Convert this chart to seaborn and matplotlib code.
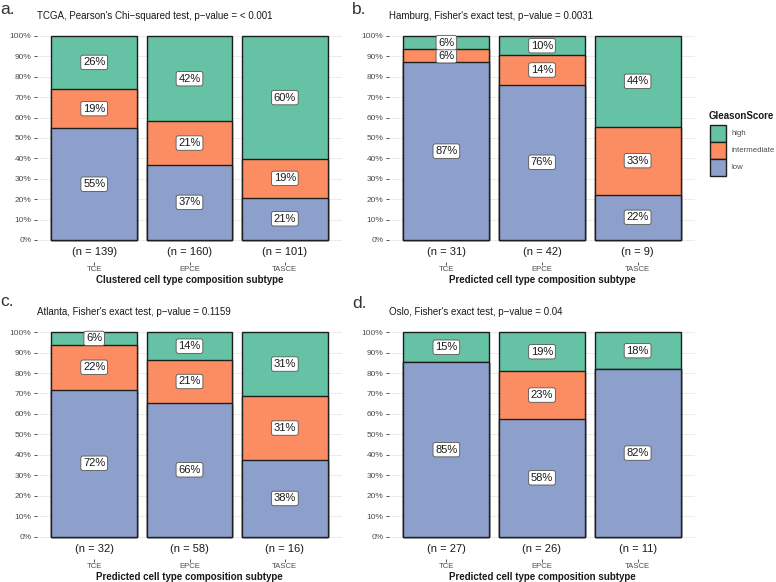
import numpy as np
import pandas as pd
import matplotlib
matplotlib.use("Agg")
import matplotlib.pyplot as plt
import seaborn as sns
from matplotlib.patches import Rectangle

sns.set_theme(style="white")
plt.rcParams["font.family"] = ["Liberation Sans", "DejaVu Sans"]

# ---------------- data (counts per subtype) ----------------
subtypes = ["TCE", "EPCE", "TASCE"]
grades = ["low", "intermediate", "high"]
palette = {"high": "#66C2A5", "intermediate": "#FC8D62", "low": "#8DA0CB"}

tcga_low = [76, 59, 21]
tcga_int = [27, 34, 19]
tcga_high = [36, 67, 61]

hamburg_low = [27, 32, 2]
hamburg_int = [2, 6, 3]
hamburg_high = [2, 4, 4]

atlanta_low = [23, 38, 6]
atlanta_int = [7, 12, 5]
atlanta_high = [2, 8, 5]

oslo_low = [23, 15, 9]
oslo_int = [0, 6, 0]
oslo_high = [4, 5, 2]

titles = [
    "TCGA, Pearson's Chi\u2212squared test, p\u2212value = < 0.001",
    "Hamburg, Fisher's exact test, p\u2212value = 0.0031",
    "Atlanta, Fisher's exact test, p\u2212value = 0.1159",
    "Oslo, Fisher's exact test, p\u2212value = 0.04",
]
xlabels = [
    "Clustered cell type composition subtype",
    "Predicted cell type composition subtype",
    "Predicted cell type composition subtype",
    "Predicted cell type composition subtype",
]
panel_letters = ["a.", "b.", "c.", "d."]
datasets = [
    (tcga_low, tcga_int, tcga_high),
    (hamburg_low, hamburg_int, hamburg_high),
    (atlanta_low, atlanta_int, atlanta_high),
    (oslo_low, oslo_int, oslo_high),
]

W, H = 776, 582
fig = plt.figure(figsize=(W / 100, H / 100), dpi=100)
fig.patch.set_facecolor("white")


def px_axes(left, top, right, bottom):
    return fig.add_axes([left / W, 1 - bottom / H, (right - left) / W, (bottom - top) / H])


# pixel boxes: (left, top, right, bottom)
boxes = [
    (37, 26, 342, 262),
    (389, 26, 695, 262),
    (37, 322, 342, 559),
    (389, 322, 695, 559),
]
letter_pos = [(0, 9), (352, 9), (0, 302), (352, 303)]

edge = "#1E1E1E"
for k, ((lo, it, hi), box) in enumerate(zip(datasets, boxes)):
    ax = px_axes(*box)
    lo = np.array(lo, float)
    it = np.array(it, float)
    hi = np.array(hi, float)
    n = lo + it + hi
    f_lo, f_it, f_hi = lo / n, it / n, hi / n
    df = pd.DataFrame({
        "subtype": subtypes,
        "cum_high": f_lo + f_it + f_hi,
        "cum_int": f_lo + f_it,
        "cum_low": f_lo,
    })
    for col, g in [("cum_high", "high"), ("cum_int", "intermediate"), ("cum_low", "low")]:
        sns.barplot(data=df, x="subtype", y=col, order=subtypes, color=palette[g],
                    saturation=1, width=0.9, edgecolor=edge, linewidth=1.0,
                    errorbar=None, ax=ax, zorder=2)

    # percentage labels
    bottoms = [np.zeros(3), f_lo, f_lo + f_it]
    fracs = [f_lo, f_it, f_hi]
    for b, f in zip(bottoms, fracs):
        for i in range(3):
            if f[i] > 0:
                ax.text(i, b[i] + f[i] / 2, f"{f[i] * 100:.0f}%", ha="center", va="center",
                        fontsize=8, color="#1A1A1A", zorder=5,
                        bbox=dict(boxstyle="round,pad=0.2,rounding_size=0.2",
                                  fc="white", ec="#555555", lw=0.6))
    # n labels
    for i in range(3):
        ax.text(i, -0.058, f"(n = {int(n[i])})", ha="center", va="center",
                fontsize=8, color="#1A1A1A")

    ax.set_xlim(-0.6, 2.6)
    ax.set_ylim(-0.108, 1.049)
    ax.set_yticks(np.arange(0, 1.01, 0.1))
    ax.set_yticklabels([f"{int(round(v * 100))}%" for v in np.arange(0, 1.01, 0.1)])
    ax.yaxis.grid(True, color="#EBEBEB", lw=0.7)
    ax.xaxis.grid(False)
    ax.set_axisbelow(True)
    for s in ax.spines.values():
        s.set_visible(False)
    ax.tick_params(axis="y", length=2.5, width=0.6, color="#333333", labelsize=6,
                   labelcolor="#4D4D4D", pad=1.5, left=True)
    ax.tick_params(axis="x", length=2, width=0.6, color="#333333", labelsize=5.6,
                   labelcolor="#4D4D4D", pad=1, bottom=True)
    ax.set_ylabel("")
    ax.set_xlabel(xlabels[k], fontsize=7, fontweight="bold", color="#1A1A1A", labelpad=1)
    ax.set_title(titles[k], loc="left", fontsize=7, color="#1A1A1A", pad=5)
    lx, ly = letter_pos[k]
    fig.text(lx / W, 1 - ly / H, panel_letters[k], ha="left", va="center",
             fontsize=12.5, color="#333333")

# ---------------- legend (drawn manually) ----------------
lax = fig.add_axes([0, 0, 1, 1])
lax.set_xlim(0, W)
lax.set_ylim(H, 0)
lax.axis("off")
lax.text(709, 116, "GleasonScore", ha="left", va="center", fontsize=7,
         fontweight="bold", color="#1A1A1A")
legend_order = ["high", "intermediate", "low"]
for j, g in enumerate(legend_order):
    y0 = 125 + j * 17
    lax.add_patch(Rectangle((709.5, y0), 16, 17, fc=palette[g], ec=edge, lw=1.0))
    lax.text(731, y0 + 8.5, g, ha="left", va="center", fontsize=5.6, color="#4D4D4D")

fig.savefig("out.png", dpi=100, facecolor="white")
